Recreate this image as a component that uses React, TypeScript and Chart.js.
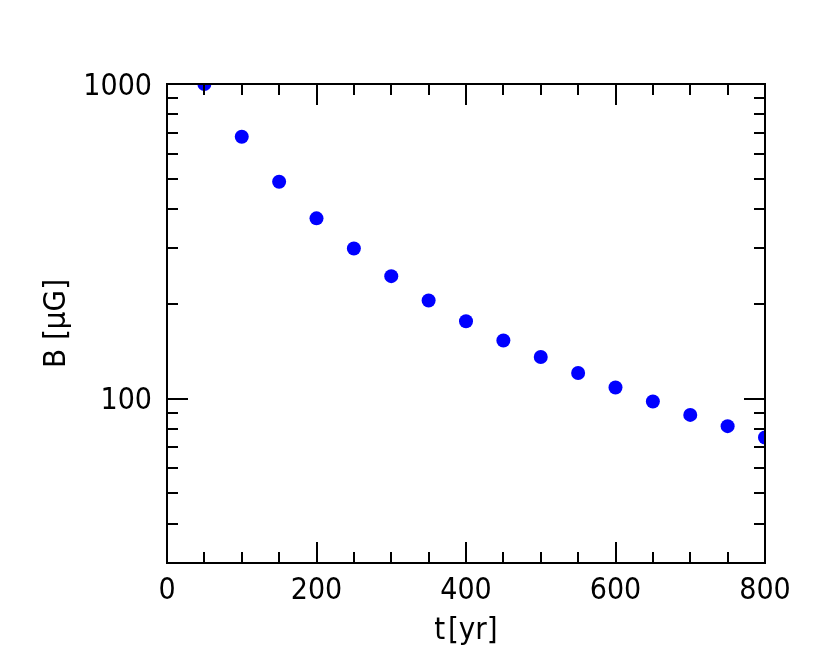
import React, { useEffect, useRef } from "react";
import { Chart, registerables } from "chart.js";

Chart.register(...registerables);

const times = [50, 100, 150, 200, 250, 300, 350, 400, 450, 500, 550, 600, 650, 700, 750, 800];
const fieldB = [1000, 680, 489, 374, 300, 245, 205, 176, 153, 135.5, 120.6, 108.4, 97.8, 88.7, 81.7, 75.2];

const xTickLabels = [0, 200, 400, 600, 800];
const xMinorTicks = [50, 100, 150, 250, 300, 350, 450, 500, 550, 650, 700, 750];
const yTickLabels = [100, 1000];
const yMinorTicks = [40, 50, 60, 70, 80, 90, 200, 300, 400, 500, 600, 700, 800, 900];

const FONT = "'DejaVu Sans Condensed', 'DejaVu Sans', sans-serif";

const framePlugin = {
  id: "frameTicks",
  afterDatasetsDraw(chart: any) {
    const { ctx, chartArea: a, scales } = chart;
    const xs = scales.x;
    const ys = scales.y;
    const major = 21;
    const minor = 11;
    ctx.save();
    ctx.strokeStyle = "#000";
    ctx.lineWidth = 2;
    ctx.beginPath();
    const xt = (vals: number[], len: number) => {
      vals.forEach((v) => {
        const px = Math.round(xs.getPixelForValue(v));
        ctx.moveTo(px, a.bottom);
        ctx.lineTo(px, a.bottom - len);
        ctx.moveTo(px, a.top);
        ctx.lineTo(px, a.top + len);
      });
    };
    const yt = (vals: number[], len: number) => {
      vals.forEach((v) => {
        const py = Math.round(ys.getPixelForValue(v));
        ctx.moveTo(a.left, py);
        ctx.lineTo(a.left + len, py);
        ctx.moveTo(a.right, py);
        ctx.lineTo(a.right - len, py);
      });
    };
    xt(xTickLabels, major);
    xt(xMinorTicks, minor);
    yt(yTickLabels, major);
    yt(yMinorTicks, minor);
    ctx.stroke();
    ctx.strokeRect(a.left, a.top, a.right - a.left, a.bottom - a.top);
    ctx.restore();
  },
};

export default function App() {
  const ref = useRef<HTMLCanvasElement>(null);
  useEffect(() => {
    if (!ref.current) return;
    const chart = new Chart(ref.current, {
      type: "scatter",
      data: {
        datasets: [
          {
            data: times.map((t, i) => ({ x: t, y: fieldB[i] })),
            backgroundColor: "#0000ff",
            borderColor: "#0000ff",
            borderWidth: 0,
            pointRadius: 7,
            clip: 0,
          },
        ],
      },
      options: {
        responsive: false,
        animation: false,
        layout: { padding: { left: 0, right: 65, top: 84, bottom: 0 } },
        plugins: { legend: { display: false }, tooltip: { enabled: false } },
        scales: {
          x: {
            type: "linear",
            min: 0,
            max: 800,
            grid: { display: false, drawTicks: false },
            border: { display: false },
            afterBuildTicks: (s: any) => {
              s.ticks = xTickLabels.map((v) => ({ value: v }));
            },
            afterFit: (s: any) => {
              s.height = 103;
            },
            ticks: {
              color: "#000",
              padding: 10,
              maxRotation: 0,
              font: { family: FONT, size: 30 },
              callback: (v: any) => String(v),
            },
            title: {
              display: true,
              text: "t\u200A[yr]",
              color: "#000",
              font: { family: FONT, size: 31 },
              padding: { top: 0, bottom: 16 },
            },
          },
          y: {
            type: "logarithmic",
            min: 30,
            max: 1000,
            grid: { display: false, drawTicks: false },
            border: { display: false },
            afterBuildTicks: (s: any) => {
              s.ticks = yTickLabels.map((v) => ({ value: v }));
            },
            afterFit: (s: any) => {
              s.width = 167;
            },
            ticks: {
              color: "#000",
              padding: 15,
              labelOffset: 3,
              font: { family: FONT, size: 30 },
              callback: (v: any) => String(v),
            },
            title: {
              display: true,
              text: "B [μG]",
              color: "#000",
              font: { family: FONT, size: 31 },
              padding: { top: 38, bottom: 0 },
            },
          },
        },
      },
      plugins: [framePlugin],
    });
    return () => chart.destroy();
  }, []);
  return (
    <div style={{ position: "fixed", left: 0, top: 0, width: 830, height: 666, background: "#fff" }}>
      <canvas ref={ref} width={830} height={666} />
    </div>
  );
}
